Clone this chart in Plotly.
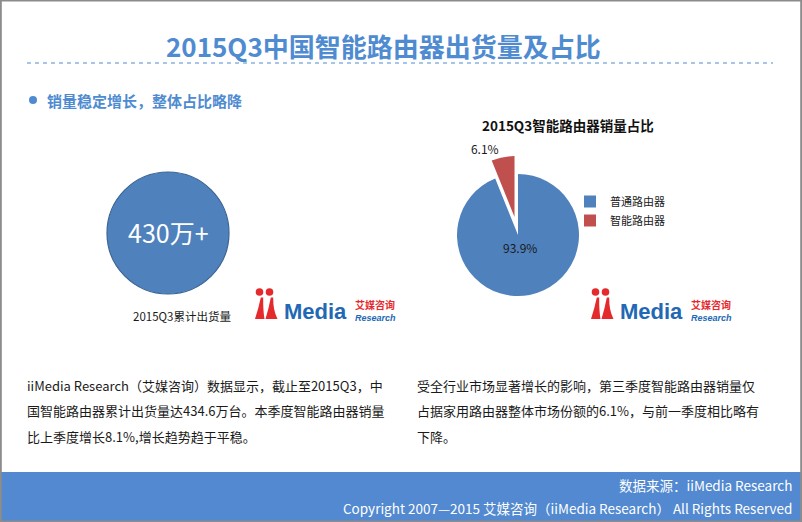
import plotly.graph_objects as go

W, H = 802, 522

# ---- data ----
pie_labels = ["普通路由器", "智能路由器"]
pie_values = [93.9, 6.1]
pie_colors = ["#4f81bd", "#c0504d"]
pie_pull = [0, 0.3]

total_label = "430万+"
total_caption = "2015Q3累计出货量"

title_text = "2015Q3中国智能路由器出货量及占比"
subtitle_text = "销量稳定增长，整体占比略降"
pie_title = "2015Q3智能路由器销量占比"

left_para = [
    "iiMedia Research（艾媒咨询）数据显示，截止至2015Q3，中",
    "国智能路由器累计出货量达434.6万台。本季度智能路由器销量",
    "比上季度增长8.1%,增长趋势趋于平稳。",
]
right_para = [
    "受全行业市场显著增长的影响，第三季度智能路由器销量仅",
    "占据家用路由器整体市场份额的6.1%，与前一季度相比略有",
    "下降。",
]
footer_lines = [
    "数据来源：iiMedia Research",
    "Copyright 2007—2015 艾媒咨询（iiMedia Research） All Rights Reserved",
]

CJK = "Noto Sans CJK SC"
BLUE = "#4f8bd0"


def px(x):
    return x / W


def py(y):
    return 1 - y / H


shapes = []
annotations = []


def text(x, y, s, size, color="#1a1a1a", xanchor="left", family=CJK, yanchor="middle"):
    annotations.append(dict(
        x=px(x), y=py(y), xref="paper", yref="paper", text=s, showarrow=False,
        xanchor=xanchor, yanchor=yanchor, borderpad=0,
        font=dict(family=family, size=size, color=color),
    ))


def rect(x0, y0, x1, y1, fill, line=None, lw=0):
    shapes.append(dict(type="rect", xref="paper", yref="paper",
                       x0=px(x0), y0=py(y1), x1=px(x1), y1=py(y0),
                       fillcolor=fill, line=dict(color=line or fill, width=lw), layer="below"))


def circle(cx, cy, r, fill, line=None, lw=0, layer="above"):
    shapes.append(dict(type="circle", xref="paper", yref="paper",
                       x0=px(cx - r), y0=py(cy + r), x1=px(cx + r), y1=py(cy - r),
                       fillcolor=fill, line=dict(color=line or fill, width=lw), layer=layer))


def path(pts_cmd, fill):
    s = ""
    for cmd, pts in pts_cmd:
        s += cmd + " ".join(f"{px(x):.5f},{py(y):.5f}" for x, y in pts) + " "
    s += "Z"
    shapes.append(dict(type="path", xref="paper", yref="paper", path=s,
                       fillcolor=fill, line=dict(width=0), layer="above"))


def spike(x0, x1, xt, top, bottom, fill):
    # tall tapered figure: wide bottom (x0..x1), pointed top at xt
    path([("M", [(x0, bottom)]),
          ("Q", [(x0 + (xt - x0) * 0.55, bottom - (bottom - top) * 0.55), (xt - 1.2, top)]),
          ("L", [(xt + 1.2, top)]),
          ("Q", [(xt + 1.0, bottom - (bottom - top) * 0.4), (x1, bottom)])], fill)


def logo(bx, by):
    red = "#e52a2e"
    lblue = "#2368b4"
    circle(bx + 9.5, by + 12.0, 3.8, red)
    circle(bx + 19.5, by + 12.0, 3.8, red)
    spike(bx + 5.0, bx + 14.5, bx + 12.0, by + 17.5, by + 39.0, red)
    spike(bx + 15.5, bx + 27.5, bx + 22.0, by + 17.5, by + 39.0, red)
    text(bx + 32.5, by + 31.5, "<b>Media</b>", 22, lblue, family="Liberation Sans")
    text(bx + 103.5, by + 24.0, "<b>艾媒咨询</b>", 10, red, family=CJK)
    text(bx + 103.5, by + 37.5, "<b><i>Research</i></b>", 9, lblue, family="Liberation Sans")


# frame + footer
rect(0, 472, W, H, "#5289d0")
shapes.append(dict(type="rect", xref="paper", yref="paper", x0=0.001, y0=0.001, x1=0.999, y1=0.999,
                   line=dict(color="#8c8c8c", width=2), fillcolor="rgba(0,0,0,0)", layer="above"))

# title
text(383, 45, f"<b>{title_text}</b>", 26, BLUE, xanchor="center")
shapes.append(dict(type="line", xref="paper", yref="paper", x0=px(27), x1=px(773), y0=py(63), y1=py(63),
                   line=dict(color=BLUE, width=1, dash="4px,4px")))

# subtitle bullet
circle(33, 100, 4, "#4f8bd0")
text(46, 100, f"<b>{subtitle_text}</b>", 15, BLUE)

# left big circle
circle(168, 233, 61, "#4f81bd", line="#3b6594", lw=1.2, layer="below")
text(168, 232, total_label, 25, "white", xanchor="center")
text(132, 316, total_caption, 11.5, "#1a1a1a")
logo(250, 280)

# pie title
text(568, 125, f"<b>{pie_title}</b>", 13.5, "#111111", xanchor="center")
logo(586, 280)

# paragraphs
for i, s in enumerate(left_para):
    text(26, 385 + i * 25.5, s, 13)
for i, s in enumerate(right_para):
    text(416, 385 + i * 25.5, s, 13)

# footer
text(793, 485, footer_lines[0], 13.5, "white", xanchor="right")
text(793, 508, footer_lines[1], 13.5, "white", xanchor="right")

# pie
cx, cy, r = 518, 235, 61
half = r * (1 + max(pie_pull))
fig = go.Figure(go.Pie(
    labels=pie_labels, values=pie_values, sort=False, direction="clockwise", rotation=0,
    pull=pie_pull, marker=dict(colors=pie_colors, line=dict(width=0)),
    texttemplate=["", "%{percent}"], textposition=["none", "outside"],
    outsidetextfont=dict(family=CJK, size=12, color="#1a1a1a"),
    hoverinfo="label+percent",
    domain=dict(x=[px(cx - half), px(cx + half)], y=[py(cy + half), py(cy - half)]),
))
# label of the large slice, placed just below the pie centre as in the reference
big_pct = pie_values[0] / sum(pie_values) * 100
text(520, 247, f"{big_pct:.1f}%", 12, "#1a1a1a", xanchor="center")

fig.update_layout(
    width=W, height=H, margin=dict(l=0, r=0, t=0, b=0),
    paper_bgcolor="white", plot_bgcolor="white",
    shapes=shapes, annotations=annotations,
    showlegend=True,
    legend=dict(x=px(570), y=py(187), xanchor="left", yanchor="top",
                font=dict(family=CJK, size=11, color="#1a1a1a"),
                bgcolor="rgba(0,0,0,0)", itemwidth=30),
    font=dict(family=CJK),
)

fig.write_html("out.html")
